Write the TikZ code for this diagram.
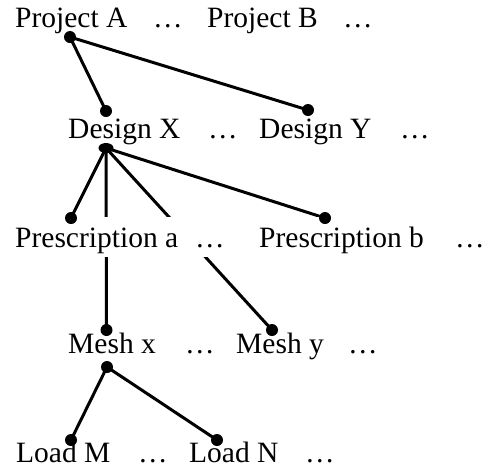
\documentclass[tikz,border=0pt]{standalone}
\usepackage{fontspec}
\setmainfont{Liberation Serif}
\usetikzlibrary{shapes.geometric,backgrounds}
\begin{document}
\begin{tikzpicture}[x=1pt,y=-1pt,
  lbl/.style={anchor=base west,inner sep=0pt,font=\fontsize{29.5}{34}\selectfont},
  cover/.style={lbl,fill=white,inner xsep=12pt,xshift=-12pt,text height=30pt,text depth=10pt},
  widecover/.style={cover,inner xsep=22pt,xshift=-22pt},
  dot/.style={circle,fill=black,inner sep=0pt,minimum size=12pt},
  flatdot/.style={ellipse,fill=black,inner sep=0pt,minimum width=15pt,minimum height=10pt},
  link/.style={line width=3pt}]
\useasboundingbox (0,0) rectangle (484,467);
% row 1
\node[lbl] (pA) at (15,27) {Project A};
\node[lbl] (e1a) at (153,27) {…};
\node[lbl] (pB) at (207,27) {Project B};
\node[lbl] (e1b) at (343,27) {…};
% row 2
\node[lbl] (dX) at (68,138) {Design X};
\node[lbl] (e2a) at (208,138) {…};
\node[lbl] (dY) at (259,138) {Design Y};
\node[lbl] (e2b) at (400,138) {…};
% row 3
\node[widecover] (e3a) at (207,247) {…};
\node[cover] (ra) at (15,247) {Prescription a};
\node[cover] (rb) at (259,247) {Prescription b};
\node[lbl] (e3b) at (455,247) {…};
% row 4
\node[lbl] (mx) at (68,353) {Mesh x};
\node[lbl] (e4a) at (185,353) {…};
\node[lbl] (my) at (236,353) {Mesh y};
\node[lbl] (e4b) at (348,353) {…};
% row 5
\node[lbl] (lM) at (16,462) {Load M};
\node[lbl] (e5a) at (138,462) {…};
\node[lbl] (lN) at (189,462) {Load N};
\node[lbl] (e5b) at (305,462) {…};
% dots
\node[dot] (dpA) at (70,37) {};
\node[dot] (ddXt) at (106,111) {};
\node[dot] (ddY) at (308,110) {};
\node[flatdot] (ddXb) at (106,148) {};
\node[dot] (dra) at (71,218) {};
\node[dot] (drb) at (325,218) {};
\node[dot] (dmx) at (106.5,330) {};
\node[dot] (dmy) at (272,330) {};
\node[dot] (dmxb) at (107,367) {};
\node[dot] (dlM) at (71,440) {};
\node[dot] (dlN) at (217,440) {};
% connectors
\begin{scope}[on background layer]
\draw[link] (dpA.center) -- (ddXt.center);
\draw[link] (dpA.center) -- (ddY.center);
\draw[link] (ddXb.center) -- (dra.center);
\draw[link] (ddXb.center) -- (dmx.center);
\draw[link] (ddXb.center) -- (dmy.center);
\draw[link] (ddXb.center) -- (drb.center);
\draw[link] (dmxb.center) -- (dlM.center);
\draw[link] (dmxb.center) -- (dlN.center);
\end{scope}
\end{tikzpicture}
\end{document}
